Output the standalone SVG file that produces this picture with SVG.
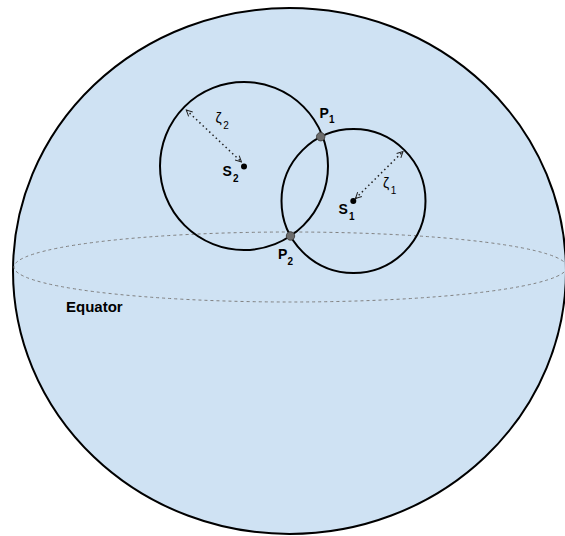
<svg xmlns="http://www.w3.org/2000/svg" width="565" height="536" viewBox="0 0 565 536">
<style>
.lbl{font-family:"Liberation Sans",Arial,sans-serif;font-weight:bold;fill:#000}
.main{font-size:14px}
.sub{font-size:10px}
.greek{font-family:"Liberation Sans","DejaVu Sans",sans-serif;font-size:14px;fill:#000}
.gsub{font-family:"Liberation Sans",sans-serif;font-size:10px;fill:#000}
.ring{fill:none;stroke:#000;stroke-width:2}
.pt{fill:#6b6b6b;stroke:#444;stroke-width:1}
.arr{fill:none;stroke:#222;stroke-width:1.5;stroke-dasharray:1.5 3;marker-start:url(#ah);marker-end:url(#ah)}
</style>
<defs>
<marker id="ah" viewBox="0 0 8 8" refX="7" refY="4" markerWidth="8" markerHeight="8" markerUnits="userSpaceOnUse" orient="auto-start-reverse">
<path d="M1,1 L7,4 L1,7" fill="none" stroke="#222" stroke-width="1"/>
</marker>
</defs>
<g id="sphere">
<ellipse cx="289.5" cy="271" rx="276.5" ry="263" fill="#cfe2f3" stroke="#000" stroke-width="2"/>
</g>
<g id="equator">
<ellipse cx="290.5" cy="267" rx="276.5" ry="35" fill="none" stroke="#808080" stroke-width="1" stroke-dasharray="3 3"/>
<text class="lbl" x="66" y="312" style="font-size:15px">Equator</text>
</g>
<g id="circle-s2">
<circle class="ring" cx="244" cy="166" r="84"/>
</g>
<g id="circle-s1">
<circle class="ring" cx="353.5" cy="201" r="72"/>
</g>
<g id="connectors">
<line class="arr" x1="186.3" y1="110" x2="241.5" y2="162"/>
<line class="arr" x1="355.5" y1="198.5" x2="403" y2="151.5"/>
</g>
<g id="s2">
<circle cx="244" cy="166.5" r="3" fill="#000"/>
<text class="lbl main" x="222.5" y="176">S</text>
<text class="lbl sub" x="233" y="182">2</text>
</g>
<g id="s1">
<circle cx="353.3" cy="201" r="3" fill="#000"/>
<text class="lbl main" x="338.5" y="214">S</text>
<text class="lbl sub" x="349" y="220">1</text>
</g>
<g id="p1">
<circle class="pt" cx="320.7" cy="136.7" r="4.2"/>
<text class="lbl main" x="319.5" y="117.5">P</text>
<text class="lbl sub" x="329" y="123">1</text>
</g>
<g id="p2">
<circle class="pt" cx="290.5" cy="236" r="4.2"/>
<text class="lbl main" x="278" y="258.5">P</text>
<text class="lbl sub" x="287.5" y="265">2</text>
</g>
<g id="zeta2">
<text class="greek" x="215.5" y="123">ζ</text>
<text class="gsub" x="223.3" y="129">2</text>
</g>
<g id="zeta1">
<text class="greek" x="383" y="188">ζ</text>
<text class="gsub" x="390.8" y="193.5">1</text>
</g>
</svg>
